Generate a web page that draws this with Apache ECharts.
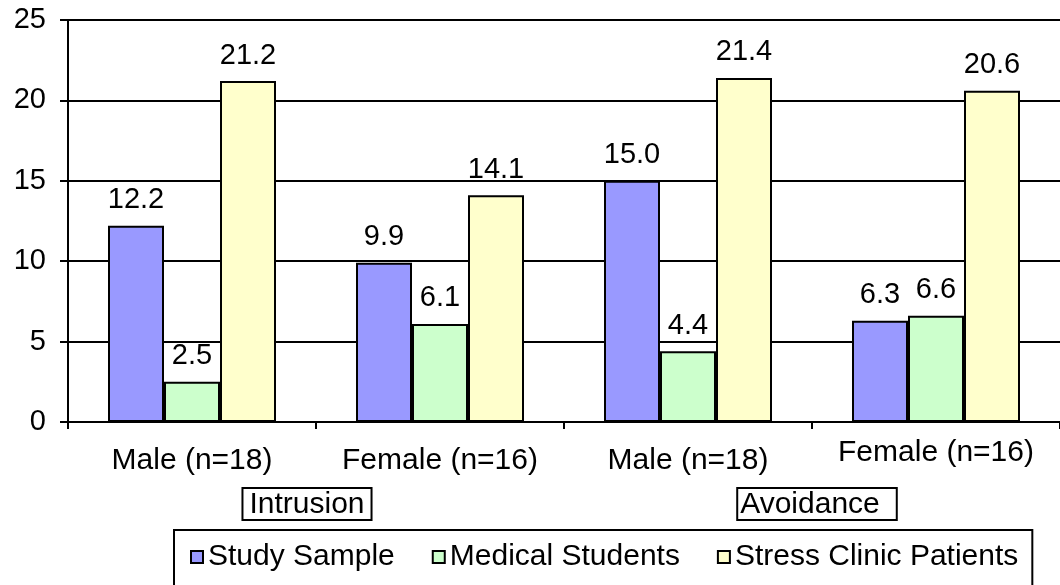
<!DOCTYPE html>
<html>
<head>
<meta charset="utf-8">
<style>
  html, body { margin: 0; padding: 0; background: #fff; }
  #chart { width: 1060px; height: 585px; }
</style>
<script src="https://cdn.jsdelivr.net/npm/echarts@6/dist/echarts.min.js"></script>
</head>
<body>
<div id="chart"></div>
<script>
// Subgroups along the x axis
const groupLabels = ['Male (n=18)', 'Female (n=16)', 'Male (n=18)', 'Female (n=16)'];
// Subscales, each spanning two subgroups
const scaleLabels = ['Intrusion', 'Avoidance'];
// Mean scores per sample
const studySample = [12.2, 9.9, 15.0, 6.3];
const medicalStudents = [2.5, 6.1, 4.4, 6.6];
const stressClinicPatients = [21.2, 14.1, 21.4, 20.6];
const seriesNames = ['Study Sample', 'Medical Students', 'Stress Clinic Patients'];
const yTicks = { min: 0, max: 25, interval: 5 };

const FONT = '"Liberation Sans", Arial, sans-serif';
const BLACK = '#000';

function barSeries(name, data, color) {
  return {
    name: name,
    type: 'bar',
    data: data,
    barWidth: 56,
    barGap: '0%',
    itemStyle: { color: color, borderColor: BLACK, borderWidth: 2 },
    label: {
      show: true,
      position: 'top',
      distance: 11,
      fontFamily: FONT,
      fontSize: 29,
      color: BLACK,
      formatter: p => p.value.toFixed(1)
    }
  };
}

const chart = echarts.init(document.getElementById('chart'), null, { renderer: 'canvas' });
chart.setOption({
  animation: false,
  backgroundColor: '#fff',
  textStyle: { fontFamily: FONT, color: BLACK },
  grid: { left: 68, right: 0, top: 20, bottom: 163, containLabel: false },
  legend: {
    data: seriesNames,
    left: 174,
    top: 530,
    orient: 'horizontal',
    icon: 'rect',
    itemWidth: 12,
    itemHeight: 12,
    itemGap: 37,
    borderColor: BLACK,
    borderWidth: 2,
    padding: [12, 14, 30, 16],
    textStyle: { fontFamily: FONT, fontSize: 30, color: BLACK }
  },
  xAxis: [
    {
      type: 'category',
      data: groupLabels,
      boundaryGap: true,
      axisLine: { lineStyle: { color: BLACK, width: 2 } },
      axisTick: { show: true, length: 7, lineStyle: { color: BLACK, width: 2 } },
      axisLabel: {
        interval: 0,
        margin: 16,
        color: BLACK,
        fontFamily: FONT,
        fontSize: 30,
        formatter: (v, i) => (i === 3 ? '{hi|' + v + '}' : '{lo|' + v + '}'),
        rich: {
          lo: { fontFamily: FONT, fontSize: 30, color: BLACK, padding: [8, 0, 0, 0] },
          hi: { fontFamily: FONT, fontSize: 30, color: BLACK }
        }
      }
    },
    {
      type: 'category',
      data: scaleLabels,
      position: 'bottom',
      boundaryGap: true,
      axisLine: { show: false },
      axisTick: { show: false },
      splitLine: { show: false },
      axisLabel: {
        interval: 0,
        margin: 66,
        color: BLACK,
        fontFamily: FONT,
        fontSize: 30,
        formatter: (v, i) => (i === 0 ? '{box1|' + v + '}{gap1|}' : '{gap2|}{box2|' + v + '}'),
        rich: {
          box1: {
            fontFamily: FONT, fontSize: 30, color: BLACK,
            borderColor: BLACK, borderWidth: 2, padding: [2, 7, 0, 7]
          },
          box2: {
            fontFamily: FONT, fontSize: 30, color: BLACK,
            borderColor: BLACK, borderWidth: 2, padding: [2, 17, 0, 3]
          },
          gap1: { width: 18 },
          gap2: { width: 10 }
        }
      }
    }
  ],
  yAxis: {
    type: 'value',
    min: yTicks.min,
    max: yTicks.max,
    interval: yTicks.interval,
    axisLine: { show: true, lineStyle: { color: BLACK, width: 2 } },
    axisTick: { show: true, length: 8, lineStyle: { color: BLACK, width: 2 } },
    axisLabel: { margin: 22, color: BLACK, fontFamily: FONT, fontSize: 29 },
    splitLine: { show: true, lineStyle: { color: BLACK, width: 2 } }
  },
  series: [
    barSeries(seriesNames[0], studySample, '#9999FF'),
    barSeries(seriesNames[1], medicalStudents, '#CCFFCC'),
    barSeries(seriesNames[2], stressClinicPatients, '#FFFFCC')
  ]
});
</script>
</body>
</html>
